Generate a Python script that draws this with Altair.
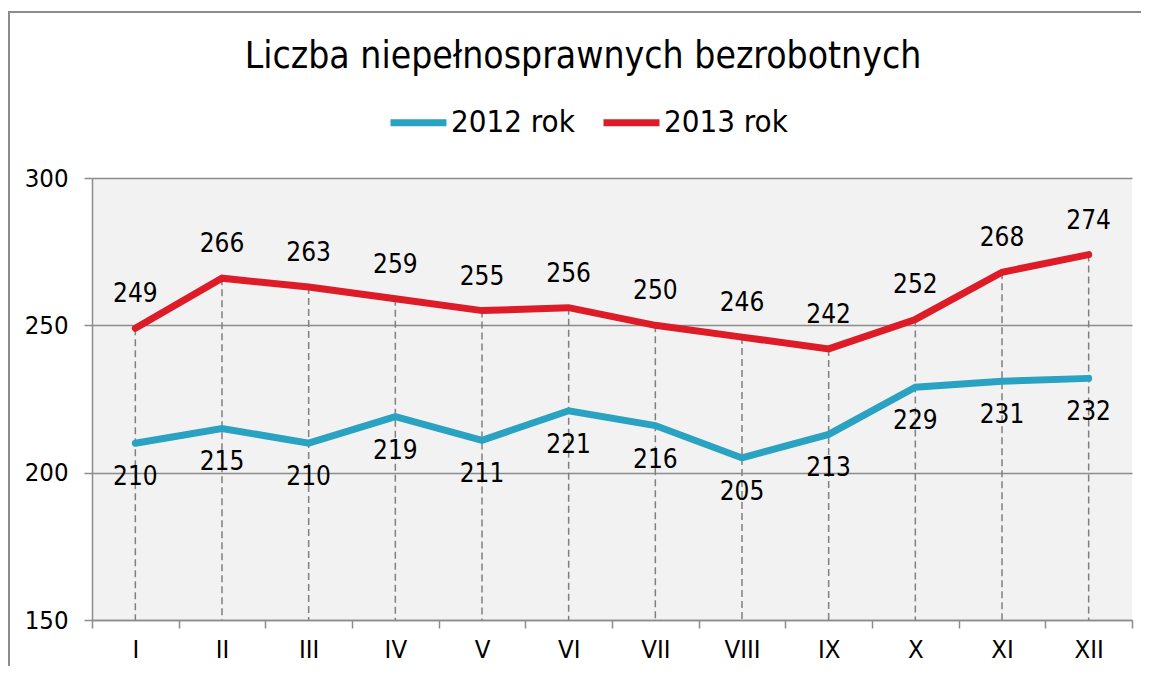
import altair as alt
import pandas as pd

months = ["I", "II", "III", "IV", "V", "VI", "VII", "VIII", "IX", "X", "XI", "XII"]
y2012 = [210, 215, 210, 219, 211, 221, 216, 205, 213, 229, 231, 232]
y2013 = [249, 266, 263, 259, 255, 256, 250, 246, 242, 252, 268, 274]
series = ["2012 rok", "2013 rok"]
colors = ["#2aa2c1", "#dd1c27"]
title_text = "Liczba niepełnosprawnych bezrobotnych"

FONT = "DejaVu Sans Condensed"

rows = []
for m, a, b in zip(months, y2012, y2013):
    rows.append({"month": m, "series": series[0], "value": a})
    rows.append({"month": m, "series": series[1], "value": b})
df = pd.DataFrame(rows)
df_max = pd.DataFrame({"month": months, "top": [max(a, b) for a, b in zip(y2012, y2013)], "base": [150] * 12})
df12 = df[df.series == series[0]]
df13 = df[df.series == series[1]]

xscale = alt.Scale(type="band", paddingInner=0, paddingOuter=0)
yscale = alt.Scale(domain=[150, 300], nice=False, zero=False)

drops = alt.Chart(df_max).mark_rule(color="#808080", strokeWidth=1.5, strokeDash=[7, 4]).encode(
    x=alt.X("month:N", sort=months, bandPosition=0.5, title=None, scale=xscale,
            axis=alt.Axis(tickBand="extent", labelAngle=0, labelPadding=9, grid=False)),
    y=alt.Y("top:Q", scale=yscale, title=None,
            axis=alt.Axis(values=[150, 200, 250, 300], grid=True, labelPadding=16)),
    y2="base:Q",
)

xl = alt.X("month:N", sort=months, bandPosition=0.5)
yl = alt.Y("value:Q", scale=yscale)

lines = alt.Chart(df).mark_line(strokeWidth=7, strokeCap="round", strokeJoin="miter").encode(
    x=xl, y=yl,
    color=alt.Color("series:N", scale=alt.Scale(domain=series, range=colors),
                    legend=alt.Legend(orient="none", legendX=295, legendY=-87, direction="horizontal",
                                      title=None, symbolType="stroke", symbolSize=3136,
                                      symbolStrokeWidth=7, labelFontSize=31, labelFont=FONT,
                                      labelColor="black", labelOffset=1, columnPadding=14)),
)

lab13 = alt.Chart(df13).mark_text(dy=-34, fontSize=26, font=FONT, color="black", baseline="middle").encode(
    x=xl, y=yl, text="value:Q",
)
lab12 = alt.Chart(df12).mark_text(dy=34, fontSize=26, font=FONT, color="black", baseline="middle").encode(
    x=xl, y=yl, text="value:Q",
)

title = alt.Chart(pd.DataFrame({"t": [title_text]})).mark_text(
    fontSize=37, font=FONT, color="black", baseline="alphabetic", align="center"
).encode(x=alt.value(491), y=alt.value(-110), text="t:N")

frame_left = alt.Chart(pd.DataFrame({"a": [0]})).mark_rule(color="#8c8c8c", strokeWidth=2).encode(
    x=alt.value(-83), y=alt.value(-166), y2=alt.value(600))
frame_top = alt.Chart(pd.DataFrame({"a": [0]})).mark_rule(color="#8c8c8c", strokeWidth=2).encode(
    x=alt.value(-84), x2=alt.value(1200), y=alt.value(-166))

chart = alt.layer(drops, lines, lab13, lab12, title, frame_left, frame_top).properties(
    width=1040, height=442,
    autosize=alt.AutoSizeParams(type="none"),
    padding={"left": 84, "top": 170, "right": 9, "bottom": 46},
    background="white",
).configure_view(fill="#f2f2f2", strokeWidth=0).configure_axis(
    labelFontSize=25.5, labelFont=FONT, labelColor="black", domainColor="#8c8c8c", domainWidth=1.5,
    tickColor="#8c8c8c", tickWidth=1.5, tickSize=8, gridColor="#8c8c8c", gridWidth=1.5,
)

chart.save("out.html", embed_options={"renderer": "svg", "actions": False})
